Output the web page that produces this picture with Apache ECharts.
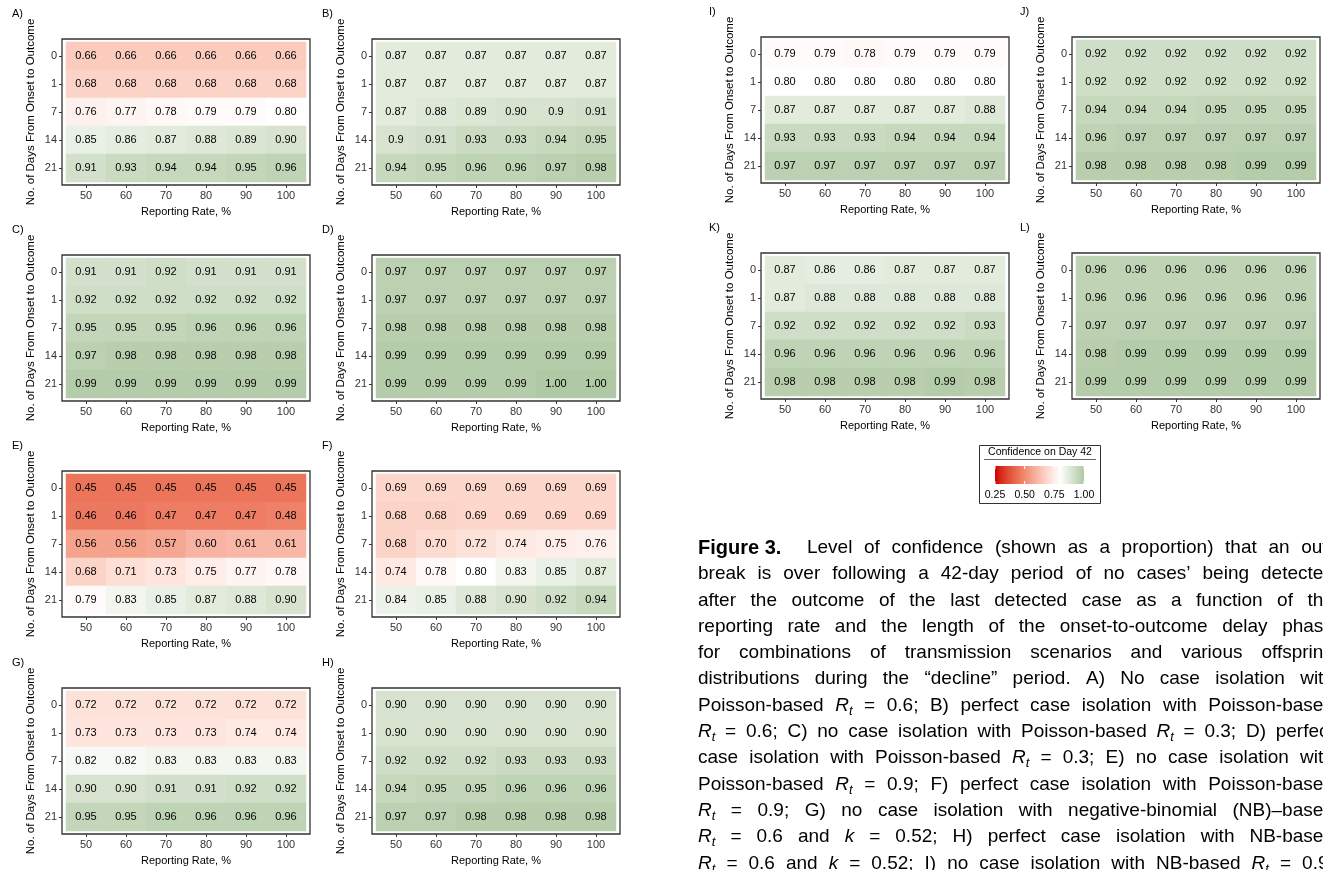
<!DOCTYPE html>
<html>
<head>
<meta charset="utf-8">
<script src="https://cdn.jsdelivr.net/npm/echarts/dist/echarts.min.js"></script>
<style>
html, body { margin: 0; padding: 0; background: #fff; overflow: hidden; }
#main { position: absolute; left: 0; top: 0; width: 1323px; height: 870px; }
#caption { position: absolute; left: 698px; top: 534px; width: 636px;
  font-family: "Liberation Sans", Arial, Helvetica, sans-serif; font-size: 19px; color: #000; }
#caption .ln { display: flex; justify-content: space-between; height: 26.3px; line-height: 26.3px; white-space: nowrap; }
#caption .fig { font-weight: bold; font-size: 20px; margin-right: 14px; }
#caption sub { font-size: 13px; font-style: italic; vertical-align: -4px; line-height: 0; }
</style>
</head>
<body>
<div id="main"></div>
<div id="caption"></div>
<script>
// axis categories
var xLabels = ['50', '60', '70', '80', '90', '100'];
var yLabels = ['0', '1', '7', '14', '21'];

// confidence values, rows = days 0,1,7,14,21 ; cols = reporting rate 50..100
var panelA = [
  ['0.66', '0.66', '0.66', '0.66', '0.66', '0.66'],
  ['0.68', '0.68', '0.68', '0.68', '0.68', '0.68'],
  ['0.76', '0.77', '0.78', '0.79', '0.79', '0.80'],
  ['0.85', '0.86', '0.87', '0.88', '0.89', '0.90'],
  ['0.91', '0.93', '0.94', '0.94', '0.95', '0.96']
];
var panelB = [
  ['0.87', '0.87', '0.87', '0.87', '0.87', '0.87'],
  ['0.87', '0.87', '0.87', '0.87', '0.87', '0.87'],
  ['0.87', '0.88', '0.89', '0.90', '0.9', '0.91'],
  ['0.9', '0.91', '0.93', '0.93', '0.94', '0.95'],
  ['0.94', '0.95', '0.96', '0.96', '0.97', '0.98']
];
var panelC = [
  ['0.91', '0.91', '0.92', '0.91', '0.91', '0.91'],
  ['0.92', '0.92', '0.92', '0.92', '0.92', '0.92'],
  ['0.95', '0.95', '0.95', '0.96', '0.96', '0.96'],
  ['0.97', '0.98', '0.98', '0.98', '0.98', '0.98'],
  ['0.99', '0.99', '0.99', '0.99', '0.99', '0.99']
];
var panelD = [
  ['0.97', '0.97', '0.97', '0.97', '0.97', '0.97'],
  ['0.97', '0.97', '0.97', '0.97', '0.97', '0.97'],
  ['0.98', '0.98', '0.98', '0.98', '0.98', '0.98'],
  ['0.99', '0.99', '0.99', '0.99', '0.99', '0.99'],
  ['0.99', '0.99', '0.99', '0.99', '1.00', '1.00']
];
var panelE = [
  ['0.45', '0.45', '0.45', '0.45', '0.45', '0.45'],
  ['0.46', '0.46', '0.47', '0.47', '0.47', '0.48'],
  ['0.56', '0.56', '0.57', '0.60', '0.61', '0.61'],
  ['0.68', '0.71', '0.73', '0.75', '0.77', '0.78'],
  ['0.79', '0.83', '0.85', '0.87', '0.88', '0.90']
];
var panelF = [
  ['0.69', '0.69', '0.69', '0.69', '0.69', '0.69'],
  ['0.68', '0.68', '0.69', '0.69', '0.69', '0.69'],
  ['0.68', '0.70', '0.72', '0.74', '0.75', '0.76'],
  ['0.74', '0.78', '0.80', '0.83', '0.85', '0.87'],
  ['0.84', '0.85', '0.88', '0.90', '0.92', '0.94']
];
var panelG = [
  ['0.72', '0.72', '0.72', '0.72', '0.72', '0.72'],
  ['0.73', '0.73', '0.73', '0.73', '0.74', '0.74'],
  ['0.82', '0.82', '0.83', '0.83', '0.83', '0.83'],
  ['0.90', '0.90', '0.91', '0.91', '0.92', '0.92'],
  ['0.95', '0.95', '0.96', '0.96', '0.96', '0.96']
];
var panelH = [
  ['0.90', '0.90', '0.90', '0.90', '0.90', '0.90'],
  ['0.90', '0.90', '0.90', '0.90', '0.90', '0.90'],
  ['0.92', '0.92', '0.92', '0.93', '0.93', '0.93'],
  ['0.94', '0.95', '0.95', '0.96', '0.96', '0.96'],
  ['0.97', '0.97', '0.98', '0.98', '0.98', '0.98']
];
var panelI = [
  ['0.79', '0.79', '0.78', '0.79', '0.79', '0.79'],
  ['0.80', '0.80', '0.80', '0.80', '0.80', '0.80'],
  ['0.87', '0.87', '0.87', '0.87', '0.87', '0.88'],
  ['0.93', '0.93', '0.93', '0.94', '0.94', '0.94'],
  ['0.97', '0.97', '0.97', '0.97', '0.97', '0.97']
];
var panelJ = [
  ['0.92', '0.92', '0.92', '0.92', '0.92', '0.92'],
  ['0.92', '0.92', '0.92', '0.92', '0.92', '0.92'],
  ['0.94', '0.94', '0.94', '0.95', '0.95', '0.95'],
  ['0.96', '0.97', '0.97', '0.97', '0.97', '0.97'],
  ['0.98', '0.98', '0.98', '0.98', '0.99', '0.99']
];
var panelK = [
  ['0.87', '0.86', '0.86', '0.87', '0.87', '0.87'],
  ['0.87', '0.88', '0.88', '0.88', '0.88', '0.88'],
  ['0.92', '0.92', '0.92', '0.92', '0.92', '0.93'],
  ['0.96', '0.96', '0.96', '0.96', '0.96', '0.96'],
  ['0.98', '0.98', '0.98', '0.98', '0.99', '0.98']
];
var panelL = [
  ['0.96', '0.96', '0.96', '0.96', '0.96', '0.96'],
  ['0.96', '0.96', '0.96', '0.96', '0.96', '0.96'],
  ['0.97', '0.97', '0.97', '0.97', '0.97', '0.97'],
  ['0.98', '0.99', '0.99', '0.99', '0.99', '0.99'],
  ['0.99', '0.99', '0.99', '0.99', '0.99', '0.99']
];

var panelNames = ['A)', 'B)', 'C)', 'D)', 'E)', 'F)', 'G)', 'H)', 'I)', 'J)', 'K)', 'L)'];
var panelData = [panelA, panelB, panelC, panelD, panelE, panelF, panelG, panelH, panelI, panelJ, panelK, panelL];
var legendTicks = ['0.25', '0.50', '0.75', '1.00'];

// layout (frame top-left corners)
var framePos = [[62, 39], [372, 39], [62, 255], [372, 255], [62, 471], [372, 471],
                [62, 688], [372, 688], [761, 37], [1072, 37], [761, 253], [1072, 253]];
var FRAME_W = 248, FRAME_H = 146, PAD_X = 4, PAD_Y = 3;
var FONT = '"Liberation Sans", Arial, Helvetica, sans-serif';

// colour scale 0.25 .. 1.00 in steps of 0.05 (red3 -> white at 0.80 -> green)
var scaleColors = ['#cd0000', '#d72a1a', '#df452f', '#e65d45', '#ec745b', '#f18a72',
                   '#f59f89', '#f8b4a2', '#fbc8b9', '#fddbd1', '#feede8', '#ffffff',
                   '#e9f0e5', '#d7e3cf', '#c3d6b9', '#b0c9a5'];
var SCALE_MIN = 0.25, SCALE_MAX = 1.0;

var myChart = echarts.init(document.getElementById('main'));

var grids = [], xAxes = [], yAxes = [], series = [], graphics = [];
for (var i = 0; i < panelData.length; i++) {
    var fx = framePos[i][0], fy = framePos[i][1];
    grids.push({
        left: fx + PAD_X, top: fy + PAD_Y,
        width: FRAME_W - 2 * PAD_X, height: FRAME_H - 2 * PAD_Y
    });
    xAxes.push({
        type: 'category', gridIndex: i, data: xLabels, offset: PAD_Y,
        axisLine: {show: false},
        axisTick: {show: true, alignWithLabel: true, length: 3, lineStyle: {color: '#333'}},
        axisLabel: {color: '#333', fontSize: 11, fontFamily: FONT, margin: 5},
        splitLine: {show: false},
        name: 'Reporting Rate, %', nameLocation: 'middle', nameGap: 21,
        nameTextStyle: {color: '#000', fontSize: 11, fontFamily: FONT}
    });
    yAxes.push({
        type: 'category', gridIndex: i, data: yLabels, inverse: true, offset: PAD_X,
        axisLine: {show: false},
        axisTick: {show: true, alignWithLabel: true, length: 3, lineStyle: {color: '#333'}},
        axisLabel: {color: '#333', fontSize: 11, fontFamily: FONT, margin: 5},
        splitLine: {show: false},
        name: 'No. of Days From Onset to Outcome', nameLocation: 'middle', nameGap: 25, nameRotate: 90,
        nameTextStyle: {color: '#000', fontSize: 11.5, fontFamily: FONT}
    });
    var rows = panelData[i];
    var cells = [];
    for (var r = 0; r < rows.length; r++) {
        for (var c = 0; c < rows[r].length; c++) {
            cells.push({value: [c, r, parseFloat(rows[r][c])], label: {formatter: rows[r][c]}});
        }
    }
    series.push({
        type: 'heatmap', xAxisIndex: i, yAxisIndex: i, data: cells, silent: true,
        label: {show: true, color: '#000', fontSize: 11, fontFamily: FONT},
        emphasis: {disabled: true}
    });
    graphics.push({
        type: 'rect', silent: true, z: 100,
        shape: {x: fx, y: fy, width: FRAME_W, height: FRAME_H},
        style: {fill: null, stroke: '#333', lineWidth: 1.3}
    });
    graphics.push({
        type: 'text', silent: true, z: 100,
        x: (i >= 8 ? fx - 52 : fx - 50), y: fy - 25,
        style: {text: panelNames[i], font: '11px ' + FONT, fill: '#000', textVerticalAlign: 'middle'}
    });
}

// legend (colour bar)
var stops = [];
for (var s = 0; s < scaleColors.length; s++) {
    stops.push({offset: s / (scaleColors.length - 1), color: scaleColors[s]});
}
var BAR_X = 995, BAR_Y = 466, BAR_W = 89, BAR_H = 18;
graphics.push({type: 'rect', silent: true, shape: {x: 979.5, y: 445.5, width: 121, height: 58},
    style: {fill: '#fff', stroke: '#333', lineWidth: 1}});
graphics.push({type: 'text', silent: true, x: 1040, y: 452,
    style: {text: 'Confidence on Day 42', font: '10.5px ' + FONT, fill: '#000',
            textAlign: 'center', textVerticalAlign: 'middle'}});
graphics.push({type: 'line', silent: true, shape: {x1: 984, y1: 459.5, x2: 1096, y2: 459.5},
    style: {stroke: '#666', lineWidth: 1}});
graphics.push({type: 'rect', silent: true, shape: {x: BAR_X, y: BAR_Y, width: BAR_W, height: BAR_H},
    style: {fill: new echarts.graphic.LinearGradient(0, 0, 1, 0, stops)}});
for (var t = 0; t < legendTicks.length; t++) {
    var tx = BAR_X + BAR_W * (parseFloat(legendTicks[t]) - SCALE_MIN) / (SCALE_MAX - SCALE_MIN);
    graphics.push({type: 'line', silent: true, z: 101, shape: {x1: tx, y1: BAR_Y, x2: tx, y2: BAR_Y + 3},
        style: {stroke: '#fff', lineWidth: 1}});
    graphics.push({type: 'line', silent: true, z: 101, shape: {x1: tx, y1: BAR_Y + BAR_H - 3, x2: tx, y2: BAR_Y + BAR_H},
        style: {stroke: '#fff', lineWidth: 1}});
    graphics.push({type: 'text', silent: true, x: tx, y: 495,
        style: {text: legendTicks[t], font: '10.5px ' + FONT, fill: '#000',
                textAlign: 'center', textVerticalAlign: 'middle'}});
}

var option = {
    backgroundColor: '#fff',
    animation: false,
    grid: grids,
    xAxis: xAxes,
    yAxis: yAxes,
    visualMap: {
        type: 'continuous', show: false, dimension: 2,
        min: SCALE_MIN, max: SCALE_MAX,
        inRange: {color: scaleColors}
    },
    series: series,
    graphic: graphics
};
myChart.setOption(option);

// caption, one justified line per entry (words split on spaces)
var Rt = '<i>R</i><sub>t</sub>';
var captionLines = [
    'Figure&nbsp;3. Level of confidence (shown as a proportion) that an out-',
    'break is over following a 42-day period of no cases\u2019 being detected',
    'after the outcome of the last detected case as a function of the',
    'reporting rate and the length of the onset-to-outcome delay phase',
    'for combinations of transmission scenarios and various offspring',
    'distributions during the \u201cdecline\u201d period. A) No case isolation with',
    'Poisson-based ' + Rt + ' = 0.6; B) perfect case isolation with Poisson-based',
    Rt + ' = 0.6; C) no case isolation with Poisson-based ' + Rt + ' = 0.3; D) perfect',
    'case isolation with Poisson-based ' + Rt + ' = 0.3; E) no case isolation with',
    'Poisson-based ' + Rt + ' = 0.9; F) perfect case isolation with Poisson-based',
    Rt + ' = 0.9; G) no case isolation with negative-binomial (NB)\u2013based',
    Rt + ' = 0.6 and <i>k</i> = 0.52; H) perfect case isolation with NB-based',
    Rt + ' = 0.6 and <i>k</i> = 0.52; I) no case isolation with NB-based ' + Rt + ' = 0.9;'
];
var cap = document.getElementById('caption');
var html = '';
for (var k = 0; k < captionLines.length; k++) {
    var words = captionLines[k].split(' ');
    html += '<div class="ln">';
    for (var w = 0; w < words.length; w++) {
        var cls = (k === 0 && w === 0) ? ' class="fig"' : '';
        html += '<span' + cls + '>' + words[w] + '</span>';
    }
    html += '</div>';
}
cap.innerHTML = html;

window.onresize = function () {
    if (myChart) {
        myChart.resize();
    }
};
</script>
</body>
</html>
